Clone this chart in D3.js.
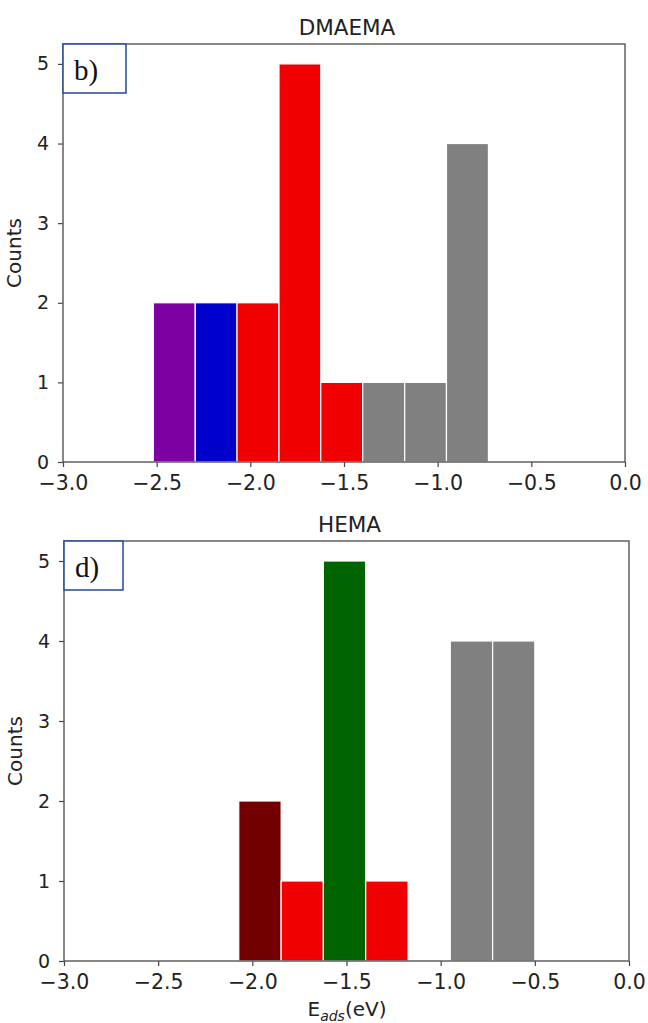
<!DOCTYPE html>
<html>
<head>
<meta charset="utf-8">
<script src="https://cdn.jsdelivr.net/npm/d3@7"></script>
<style>
  body { margin: 0; background: #fff; }
  svg { display: block; }
  .tick text { font-family: "DejaVu Sans", sans-serif; fill: #222; }
  .xaxis .tick text { font-size: 20.5px; }
  .yaxis .tick text { font-size: 19px; }
  .tick line { stroke: #444; stroke-width: 1.2; }
  .domain { display: none; }
</style>
</head>
<body>
<div id="chart"></div>
<script>
// DMAEMA histogram (panel b)
var dmaemaEdges = [-2.518, -2.294, -2.071, -1.847, -1.624, -1.400, -1.176, -0.953, -0.729];
var dmaemaCounts = [2, 2, 2, 5, 1, 1, 1, 4];
var dmaemaColors = ["#7d00a3", "#0000cc", "#f00000", "#f00000", "#f00000", "#808080", "#808080", "#808080"];

// HEMA histogram (panel d)
var hemaEdges = [-2.072, -1.847, -1.623, -1.398, -1.173, -0.949, -0.724, -0.500];
var hemaCounts = [2, 1, 5, 1, 0, 4, 4];
var hemaColors = ["#720000", "#f00000", "#006400", "#f00000", "#808080", "#808080", "#808080"];

var xTicks = [-3.0, -2.5, -2.0, -1.5, -1.0, -0.5, 0.0];
var yTicks = [0, 1, 2, 3, 4, 5];

var width = 648, height = 1023;
var svg = d3.select("#chart").append("svg")
    .attr("width", width).attr("height", height);

function fmt(d) {
    return d3.format(".1f")(d).replace("-", "\u2212");
}

function drawPanel(opts) {
    var x = d3.scaleLinear().domain([-3, 0]).range([opts.left, opts.right]);
    var y = d3.scaleLinear().domain([0, 5.25]).range([opts.bottom, opts.top]);
    var g = svg.append("g");

    var bins = opts.counts.map(function (c, i) {
        return { x0: opts.edges[i], x1: opts.edges[i + 1], n: c, color: opts.colors[i] };
    }).filter(function (b) { return b.n > 0; });

    g.selectAll("rect.bar").data(bins).enter().append("rect")
        .attr("class", "bar")
        .attr("x", function (d) { return x(d.x0); })
        .attr("width", function (d) { return x(d.x1) - x(d.x0); })
        .attr("y", function (d) { return y(d.n); })
        .attr("height", function (d) { return y(0) - y(d.n); })
        .attr("fill", function (d) { return d.color; })
        .attr("stroke", "#fff")
        .attr("stroke-width", 1.2);

    // axes
    g.append("g").attr("class", "xaxis").attr("transform", "translate(0," + opts.bottom + ")")
        .call(d3.axisBottom(x).tickValues(xTicks).tickFormat(fmt).tickSize(5).tickPadding(8));
    g.append("g").attr("class", "yaxis").attr("transform", "translate(" + opts.left + ",0)")
        .call(d3.axisLeft(y).tickValues(yTicks).tickFormat(d3.format("d")).tickSize(5).tickPadding(9));

    // frame
    g.append("rect")
        .attr("x", opts.left).attr("y", opts.top)
        .attr("width", opts.right - opts.left).attr("height", opts.bottom - opts.top)
        .attr("fill", "none").attr("stroke", "#555").attr("stroke-width", 1.4);

    g.append("text")
        .attr("x", (opts.left + opts.right) / 2 + 3).attr("y", opts.top - 9)
        .attr("text-anchor", "middle")
        .style("font-family", "DejaVu Sans, sans-serif").style("font-size", "21.5px").style("fill", "#222")
        .text(opts.title);

    g.append("text")
        .attr("transform", "translate(" + (opts.left - 42) + "," + ((opts.top + opts.bottom) / 2) + ") rotate(-90)")
        .attr("text-anchor", "middle")
        .style("font-family", "DejaVu Sans, sans-serif").style("font-size", "20px").style("fill", "#222")
        .text("Counts");

    // panel label box
    g.append("rect")
        .attr("x", opts.left).attr("y", opts.top)
        .attr("width", opts.boxW).attr("height", 49)
        .attr("fill", "#fff").attr("stroke", "#2c5596").attr("stroke-width", 1.6);
    g.append("text")
        .attr("x", opts.left + 11).attr("y", opts.top + 36)
        .style("font-family", "Liberation Serif, serif").style("font-size", "29px").style("fill", "#111")
        .text(opts.label);
}

drawPanel({ left: 63, right: 625, top: 44, bottom: 462, edges: dmaemaEdges, counts: dmaemaCounts,
    colors: dmaemaColors, title: "DMAEMA", label: "b)", boxW: 63 });
drawPanel({ left: 64, right: 629, top: 541, bottom: 961, edges: hemaEdges, counts: hemaCounts,
    colors: hemaColors, title: "HEMA", label: "d)", boxW: 59 });

// x label with subscript
var xl = svg.append("text")
    .attr("x", 347).attr("y", 1016)
    .attr("text-anchor", "middle")
    .style("font-family", "DejaVu Sans, sans-serif").style("font-size", "20px").style("fill", "#222");
xl.append("tspan").text("E");
xl.append("tspan").attr("dy", 5).style("font-size", "14px").style("font-style", "italic").text("ads");
xl.append("tspan").attr("dy", -5).text("(eV)");
</script>
</body>
</html>
